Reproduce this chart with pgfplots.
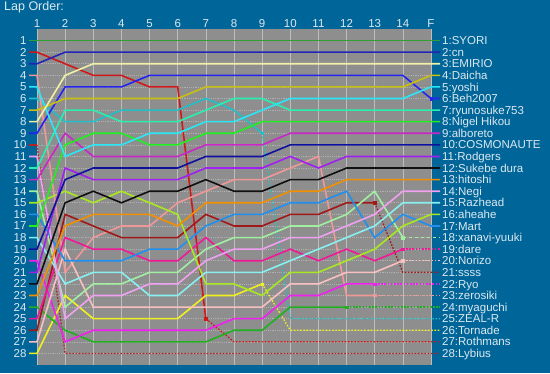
\documentclass[border=0pt]{standalone}
\usepackage{fontspec}
\setmainfont{Liberation Sans}
\usepackage{pgfplots}
\usepackage{pgfplotstable}
\pgfplotsset{compat=1.18}
\definecolor{bg}{HTML}{006699}
\definecolor{plotgray}{HTML}{8E8E8E}
\definecolor{txt}{HTML}{DCE8F0}
\definecolor{gridv}{HTML}{BDBDBD}
\definecolor{gridh}{HTML}{B0B0B0}
\definecolor{c1}{HTML}{30A030}
\definecolor{c2}{HTML}{2424B8}
\definecolor{c3}{HTML}{F0F0A8}
\definecolor{c4}{HTML}{C8C010}
\definecolor{c5}{HTML}{28E8F8}
\definecolor{c6}{HTML}{2424F0}
\definecolor{c7}{HTML}{28F0B0}
\definecolor{c8}{HTML}{20F020}
\definecolor{c9}{HTML}{C828C8}
\definecolor{c10}{HTML}{1010A0}
\definecolor{c11}{HTML}{A020F0}
\definecolor{c12}{HTML}{101010}
\definecolor{c13}{HTML}{F09000}
\definecolor{c14}{HTML}{F0A0F0}
\definecolor{c15}{HTML}{88F0F0}
\definecolor{c16}{HTML}{A8E820}
\definecolor{c17}{HTML}{2090F0}
\definecolor{c18}{HTML}{A0F0A0}
\definecolor{c19}{HTML}{F01898}
\definecolor{c20}{HTML}{F8C0C0}
\definecolor{c21}{HTML}{A01818}
\definecolor{c22}{HTML}{F020F0}
\definecolor{c23}{HTML}{F09898}
\definecolor{c24}{HTML}{20B020}
\definecolor{c25}{HTML}{20C0C8}
\definecolor{c26}{HTML}{F0F020}
\definecolor{c27}{HTML}{D01818}
\definecolor{c28}{HTML}{B82020}

\pgfplotstableread{
lap d1 d2 d3 d4 d5 d6 d7 d8 d9 d10 d11 d12 d13 d14 d15 d16 d17 d18 d19 d20 d21 d22 d23 d24 d25 d26 d27 d28
0.716 1 3 8 7 5 9 12 17 13 19 21 22 23 11 18 15 16 14 25 27 26 20 4 24 6 28 2 10
1 1 3 8 7 5 9 12 17 13 19 21 22 23 11 18 15 16 14 25 27 26 20 4 24 6 28 2 10
2 1 2 4 6 11 5 7 10 9 13 12 15 17 25 22 14 20 24 18 19 16 27 21 26 8 23 3 28
3 1 2 3 6 10 5 7 9 11 12 13 14 16 23 21 15 20 22 19 24 17 26 18 27 8 25 4 28
4 1 2 3 6 10 5 8 9 11 12 13 15 16 23 21 14 20 22 19 24 18 26 17 27 7 25 4 28
5 1 2 3 6 9 4 8 10 11 12 13 14 16 22 23 15 19 21 20 24 18 26 17 27 7 25 5 28
6 1 2 3 6 9 4 8 10 11 12 13 14 17 22 23 16 19 21 20 24 18 26 15 27 7 25 5 28
7 1 2 3 5 8 4 7 9 10 11 12 13 15 20 21 22 17 19 18 24 16 26 14 27 6 23 25 28
8 1 2 3 5 8 4 6 9 10 11 12 14 15 19 21 22 16 18 20 24 17 25 13 26 7 23 27 28
9 1 2 3 5 7 4 6 8 10 11 12 14 15 19 21 23 16 18 20 24 17 25 13 26 9 22 27 28
10 1 2 3 5 6 4 7 8 9 10 11 13 14 18 20 21 15 17 19 22 16 23 12 24 25 26 27 28
11 1 2 3 5 6 4 7 8 9 10 12 13 14 18 19 21 15 17 20 22 16 23 11 24 25 26 27 28
12 1 2 3 5 6 4 7 8 9 10 11 12 13 17 18 20 14 16 19 21 15 22 23 24 25 26 27 28
13 1 2 3 5 6 4 7 8 9 10 11 12 13 16 17 19 18 14 20 21 15 22 23 24 25 26 27 28
14 1 2 3 5 6 4 7 8 9 10 11 12 13 14 15 17 16 18 19 20 21 22 23 24 25 26 27 28
15 1 2 3 4 5 6 7 8 9 10 11 12 13 14 15 16 17 18 19 20 21 22 23 24 25 26 27 28
15.32 1 2 3 4 5 6 7 8 9 10 11 12 13 14 15 16 17 18 19 20 21 22 23 24 25 26 27 28
}\laps

\begin{document}
\begin{tikzpicture}[x=1pt,y=1pt]
\fill[bg] (0,0) rectangle (550,373);
\node[anchor=base west, text=txt, font=\fontsize{12.5}{14}\selectfont, inner sep=0pt] at (4,362) {Lap Order:};
\begin{axis}[
  at={(37pt,8pt)}, anchor=south west, scale only axis,
  width=394pt, height=336pt,
  xmin=1, xmax=15, ymin=0, ymax=29, y dir=reverse,
  clip=false,
  axis line style={draw=none},
  axis background/.style={fill=plotgray},
  tick style={draw=none},
  xtick={1,2,3,4,5,6,7,8,9,10,11,12,13,14,15},
  xticklabels={1,2,3,4,5,6,7,8,9,10,11,12,13,14,F},
  ytick={1,2,3,4,5,6,7,8,9,10,11,12,13,14,15,16,17,18,19,20,21,22,23,24,25,26,27,28},
  yticklabels={1,2,3,4,5,6,7,8,9,10,11,12,13,14,15,16,17,18,19,20,21,22,23,24,25,26,27,28},
  xticklabel pos=upper,
  ticklabel style={text=txt, font=\fontsize{11.5}{12}\selectfont},
  yticklabel style={xshift=-7pt},
  xticklabel style={yshift=-2pt},
  /pgf/number format/assume math mode=true,
  xmajorgrids, ymajorgrids,
  x grid style={draw=gridv, line width=0.6pt},
  y grid style={draw=gridh, line width=0.6pt, dash pattern=on 1.2pt off 1pt},
  every axis plot/.append style={line width=1.6pt, mark=none},
  dot/.style={line width=1.3pt, dash pattern=on 1.6pt off 1.6pt},
  mk/.style={only marks, mark=square*, mark size=1.2pt, mark options={line width=0.4pt, solid}},
]
% retired drivers
\addplot[c28] table[x=lap,y=d28,restrict x to domain=0:1]{\laps};
\addplot[c28,dot] table[x=lap,y=d28,restrict x to domain=1:16]{\laps};
\addplot[c27] table[x=lap,y=d27,restrict x to domain=0:7]{\laps};
\addplot[c27,dot] table[x=lap,y=d27,restrict x to domain=7:16]{\laps};
\addplot[c27,mk] table[x=lap,y=d27,restrict x to domain=6.9:7.1]{\laps};
\addplot[c26] table[x=lap,y=d26,restrict x to domain=0:9]{\laps};
\addplot[c26,dot] table[x=lap,y=d26,restrict x to domain=9:16]{\laps};
\addplot[c26,mk] table[x=lap,y=d26,restrict x to domain=8.9:9.1]{\laps};
\addplot[c25] table[x=lap,y=d25,restrict x to domain=0:9]{\laps};
\addplot[c25,dot] table[x=lap,y=d25,restrict x to domain=9:16]{\laps};
\addplot[c25,mk] table[x=lap,y=d25,restrict x to domain=8.9:9.1]{\laps};
\addplot[c24] table[x=lap,y=d24,restrict x to domain=0:12]{\laps};
\addplot[c24,dot] table[x=lap,y=d24,restrict x to domain=12:16]{\laps};
\addplot[c24,mk] table[x=lap,y=d24,restrict x to domain=11.9:12.1]{\laps};
\addplot[c23] table[x=lap,y=d23,restrict x to domain=0:13]{\laps};
\addplot[c23,dot] table[x=lap,y=d23,restrict x to domain=13:16]{\laps};
\addplot[c23,mk] table[x=lap,y=d23,restrict x to domain=12.9:13.1]{\laps};
\addplot[c22] table[x=lap,y=d22,restrict x to domain=0:13]{\laps};
\addplot[c22,dot] table[x=lap,y=d22,restrict x to domain=13:16]{\laps};
\addplot[c22,mk] table[x=lap,y=d22,restrict x to domain=12.9:13.1]{\laps};
\addplot[c21] table[x=lap,y=d21,restrict x to domain=0:13]{\laps};
\addplot[c21,dot] table[x=lap,y=d21,restrict x to domain=13:16]{\laps};
\addplot[c21,mk] table[x=lap,y=d21,restrict x to domain=12.9:13.1]{\laps};
\addplot[c20] table[x=lap,y=d20,restrict x to domain=0:14]{\laps};
\addplot[c20,dot] table[x=lap,y=d20,restrict x to domain=14:16]{\laps};
\addplot[c20,mk] table[x=lap,y=d20,restrict x to domain=13.9:14.1]{\laps};
\addplot[c19] table[x=lap,y=d19,restrict x to domain=0:14]{\laps};
\addplot[c19,dot] table[x=lap,y=d19,restrict x to domain=14:16]{\laps};
\addplot[c19,mk] table[x=lap,y=d19,restrict x to domain=13.9:14.1]{\laps};
\addplot[c18] table[x=lap,y=d18,restrict x to domain=0:14]{\laps};
\addplot[c18,line width=1.3pt,dash pattern=on 3.5pt off 2.5pt] table[x=lap,y=d18,restrict x to domain=14:16]{\laps};
\addplot[c18,mk] table[x=lap,y=d18,restrict x to domain=13.9:14.1]{\laps};
% running drivers
\addplot[c17] table[x=lap,y=d17]{\laps};
\addplot[c16] table[x=lap,y=d16]{\laps};
\addplot[c15] table[x=lap,y=d15]{\laps};
\addplot[c14] table[x=lap,y=d14]{\laps};
\addplot[c13] table[x=lap,y=d13]{\laps};
\addplot[c12] table[x=lap,y=d12]{\laps};
\addplot[c11] table[x=lap,y=d11]{\laps};
\addplot[c10] table[x=lap,y=d10]{\laps};
\addplot[c9] table[x=lap,y=d9]{\laps};
\addplot[c8] table[x=lap,y=d8]{\laps};
\addplot[c7] table[x=lap,y=d7]{\laps};
\addplot[c6] table[x=lap,y=d6]{\laps};
\addplot[c6,mk] table[x=lap,y=d6,restrict x to domain=14.9:15.1]{\laps};
\addplot[c5] table[x=lap,y=d5]{\laps};
\addplot[c4] table[x=lap,y=d4]{\laps};
\addplot[c3] table[x=lap,y=d3]{\laps};
\addplot[c2] table[x=lap,y=d2]{\laps};
\addplot[c1] table[x=lap,y=d1]{\laps};
% right labels
\begin{scope}[every node/.style={anchor=west, inner sep=0pt, text=txt, text height=8.2pt, text depth=0pt, font=\fontsize{11.5}{13}\selectfont}]
\node at (axis cs:15.39,1) {1:SYORI};
\node at (axis cs:15.39,2) {2:cn};
\node at (axis cs:15.39,3) {3:EMIRIO};
\node at (axis cs:15.39,4) {4:Daicha};
\node at (axis cs:15.39,5) {5:yoshi};
\node at (axis cs:15.39,6) {6:Beh2007};
\node at (axis cs:15.39,7) {7:ryunosuke753};
\node at (axis cs:15.39,8) {8:Nigel Hikou};
\node at (axis cs:15.39,9) {9:alboreto};
\node at (axis cs:15.39,10) {10:COSMONAUTE};
\node at (axis cs:15.39,11) {11:Rodgers};
\node at (axis cs:15.39,12) {12:Sukebe dura};
\node at (axis cs:15.39,13) {13:hitoshi};
\node at (axis cs:15.39,14) {14:Negi};
\node at (axis cs:15.39,15) {15:Razhead};
\node at (axis cs:15.39,16) {16:aheahe};
\node at (axis cs:15.39,17) {17:Mart};
\node at (axis cs:15.39,18) {18:xanavi-yuuki};
\node at (axis cs:15.39,19) {19:dare};
\node at (axis cs:15.39,20) {20:Norizo};
\node at (axis cs:15.39,21) {21:ssss};
\node at (axis cs:15.39,22) {22:Ryo};
\node at (axis cs:15.39,23) {23:zerosiki};
\node at (axis cs:15.39,24) {24:myaguchi};
\node at (axis cs:15.39,25) {25:ZEAL-R};
\node at (axis cs:15.39,26) {26:Tornade};
\node at (axis cs:15.39,27) {27:Rothmans};
\node at (axis cs:15.39,28) {28:Lybius};
\end{scope}
\end{axis}
\end{tikzpicture}
\end{document}
